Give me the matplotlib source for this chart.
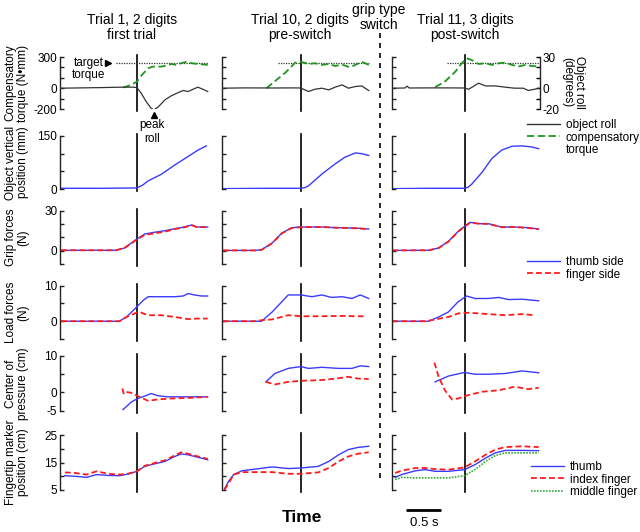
import matplotlib
matplotlib.use("Agg")
import matplotlib.pyplot as plt
from matplotlib.lines import Line2D

plt.rcParams['font.family'] = ['Liberation Sans', 'DejaVu Sans']

# ---- data (time in s, 0 = vertical line) ----
titles = ["Trial 1, 2 digits\nfirst trial", "Trial 10, 2 digits\npre-switch", "Trial 11, 3 digits\npost-switch"]
row_labels = ["Compensatory\ntorque (N\u2022mm)", "Object vertical\nposition (mm)", "Grip forces\n(N)",
              "Load forces\n(N)", "Center of\npressure (cm)", "Fingertip marker\nposition (cm)"]
target_torque = 240
target_span = [(-0.30, 1.01), (-0.33, 0.97), (-0.25, 1.06)]

# row 1: compensatory torque (N*mm) and object roll (deg)
torque_t = [[-0.20, -0.08, 0.00, 0.07, 0.16, 0.23, 0.35, 0.42, 0.49, 0.56, 0.63, 0.70, 0.78, 0.87, 1.01],
            [-0.49, -0.37, -0.22, -0.08, 0.00, 0.11, 0.20, 0.30, 0.40, 0.49, 0.59, 0.70, 0.78, 0.87, 0.97],
            [-0.42, -0.28, -0.13, -0.04, 0.03, 0.10, 0.20, 0.30, 0.39, 0.49, 0.58, 0.68, 0.77, 0.87, 0.96, 1.06]]
torque = [[6, 32, 64, 128, 192, 208, 208, 217, 233, 224, 240, 252, 240, 233, 224],
          [0, 67, 150, 246, 255, 233, 240, 224, 233, 214, 227, 201, 224, 255, 224],
          [10, 64, 160, 240, 288, 272, 233, 240, 224, 240, 246, 224, 208, 224, 214, 208]]
roll_t = [[-1.09, -0.80, -0.50, -0.20, -0.05, 0.00, 0.06, 0.13, 0.20, 0.24, 0.30, 0.40, 0.49, 0.59, 0.66, 0.73, 0.80, 0.87, 0.94, 1.01],
          [-1.12, -0.80, -0.40, -0.10, 0.00, 0.11, 0.20, 0.30, 0.40, 0.49, 0.59, 0.68, 0.78, 0.87, 0.97],
          [-1.03, -0.85, -0.82, -0.79, -0.50, -0.20, 0.00, 0.06, 0.20, 0.30, 0.44, 0.58, 0.72, 0.84, 0.91, 1.00, 1.06]]
roll = [[0, 0.3, 0.6, 1.0, 1.0, 0.5, -4.8, -12.8, -19.2, -20.8, -18.2, -11.2, -7.3, -4.2, -2.2, -3.2, -1.0, 1.0, -1.0, -3.2],
        [0, 0.3, 0.2, 0.3, 0.2, -3.2, -1.0, 0.0, -1.6, 1.0, 3.2, 0.0, 1.6, 2.2, -2.2],
        [0, 0.2, 2.0, 0.2, 0.3, 0.3, 0.2, -1.0, 4.8, 2.2, 2.2, 1.0, 0.0, 0.0, -2.2, -1.0, 0.0]]

# row 2: object vertical position (mm)
pos_t = [[-1.08, -0.50, 0.00, 0.08, 0.16, 0.35, 0.54, 0.73, 0.87, 0.99],
         [-1.11, -0.50, 0.00, 0.06, 0.11, 0.30, 0.49, 0.63, 0.78, 0.87, 0.97],
         [-1.03, -0.50, 0.00, 0.05, 0.10, 0.25, 0.39, 0.53, 0.68, 0.82, 0.96, 1.06]]
pos = [[2, 2, 3, 11, 23, 42, 68, 92, 110, 122],
       [1, 2, 2, 4, 9, 42, 71, 90, 102, 100, 95],
       [1, 2, 2, 5, 13, 47, 86, 110, 121, 122, 119, 114]]

# row 3: grip forces (N)
grip_t = [[-1.08, -0.30, -0.18, -0.08, 0.00, 0.11, 0.25, 0.40, 0.54, 0.68, 0.78, 0.85, 1.01],
          [-1.11, -0.65, -0.56, -0.41, -0.27, -0.13, 0.00, 0.30, 0.49, 0.78, 0.97],
          [-1.03, -0.51, -0.37, -0.23, -0.09, 0.00, 0.08, 0.20, 0.34, 0.53, 0.72, 0.91, 1.06]]
grip_thumb = [[0.3, 0.3, 2.0, 5.75, 8.75, 12.5, 13.8, 15.0, 16.5, 17.75, 19.25, 17.75, 17.75],
              [0.2, 0.2, 0.75, 5.75, 13.25, 17.25, 17.75, 17.75, 17.25, 17.0, 16.25],
              [0.2, 0.3, 2.0, 7.0, 14.5, 18.25, 21.25, 20.25, 20.25, 17.75, 17.75, 17.25, 16.25]]
grip_finger = [[0.3, 0.3, 2.0, 5.5, 8.5, 11.8, 13.0, 14.3, 16.2, 17.6, 19.2, 17.8, 17.6],
               [0.2, 0.2, 0.6, 5.5, 13.0, 17.0, 17.6, 17.8, 17.3, 16.8, 16.2],
               [0.2, 0.3, 2.0, 6.8, 14.3, 18.0, 21.0, 20.3, 20.1, 17.6, 17.8, 17.0, 16.1]]

# row 4: load forces (N)
load_thumb_t = [[-1.08, -0.25, -0.15, 0.00, 0.09, 0.16, 0.35, 0.54, 0.66, 0.73, 0.82, 0.92, 1.01],
                [-1.11, -0.56, -0.41, -0.27, -0.18, 0.00, 0.16, 0.30, 0.44, 0.59, 0.73, 0.85, 0.97],
                [-1.03, -0.51, -0.37, -0.23, -0.09, 0.03, 0.15, 0.34, 0.49, 0.63, 0.82, 1.06]]
load_thumb = [[0, 0, 1.2, 4.1, 5.9, 6.9, 6.9, 6.9, 7.1, 7.8, 7.4, 7.1, 7.1],
              [0, 0, 2.6, 5.5, 7.4, 7.4, 6.9, 7.4, 6.7, 6.9, 6.4, 7.4, 6.4],
              [0, 0, 1.2, 2.6, 5.5, 7.1, 6.4, 6.4, 6.7, 6.1, 6.2, 5.75]]
load_finger_t = [[-1.08, -0.25, -0.13, 0.00, 0.06, 0.16, 0.35, 0.54, 0.73, 0.87, 1.01],
                 [-1.11, -0.65, -0.56, -0.41, -0.18, 0.00, 0.30, 0.59, 0.78, 0.94],
                 [-1.03, -0.55, -0.47, -0.23, -0.09, 0.06, 0.34, 0.58, 0.82, 1.00]]
load_finger = [[0, 0, 1.4, 2.45, 2.4, 1.7, 1.7, 1.2, 0.6, 0.75, 0.75],
               [0, 0, 0.3, 0.5, 1.7, 1.4, 1.4, 1.5, 1.4, 1.4],
               [0, 0, 0.3, 1.2, 2.2, 2.4, 2.0, 1.7, 2.0, 1.7]]

# row 5: center of pressure (cm)
cop_thumb_t = [[-0.20, -0.08, 0.01, 0.11, 0.20, 0.30, 0.44, 0.63, 0.82, 1.01],
               [-0.50, -0.37, -0.18, 0.00, 0.11, 0.30, 0.54, 0.73, 0.85, 0.97],
               [-0.42, -0.23, 0.00, 0.15, 0.34, 0.58, 0.82, 1.06]]
cop_thumb = [[-4.7, -2.6, -1.65, -1.0, -0.3, -0.9, -1.2, -1.2, -1.2, -1.2],
             [2.9, 5.2, 6.6, 7.1, 6.6, 6.9, 6.6, 6.6, 7.3, 7.1],
             [2.9, 4.5, 5.5, 5.0, 5.0, 5.2, 5.9, 5.4]]
cop_finger_t = [[-0.21, -0.19, -0.17, -0.08, 0.01, 0.16, 0.30, 0.49, 0.73, 1.01],
                [-0.50, -0.37, -0.18, 0.00, 0.30, 0.54, 0.68, 0.82, 0.97],
                [-0.43, -0.37, -0.28, -0.18, -0.09, 0.06, 0.25, 0.49, 0.72, 0.91, 1.06]]
cop_finger = [[1.1, -0.3, 0.2, -0.1, -1.0, -2.3, -1.9, -1.65, -1.5, -1.2],
              [2.9, 2.2, 2.9, 3.2, 3.4, 3.9, 4.3, 3.8, 3.7],
              [8.2, 4.3, 0.6, -1.9, -1.65, -0.7, 0.2, 0.6, 1.6, 0.9, 1.3]]

# row 6: fingertip marker position (cm)
tip_t = [[-1.03, -0.89, -0.72, -0.58, -0.41, -0.25, -0.13, 0.00, 0.11, 0.25, 0.40, 0.54, 0.63, 0.73, 0.87, 1.01],
         [-1.09, -1.03, -0.96, -0.84, -0.65, -0.41, -0.18, 0.00, 0.25, 0.40, 0.54, 0.68, 0.82, 0.97],
         [-0.99, -0.90, -0.70, -0.56, -0.42, -0.23, 0.00, 0.15, 0.30, 0.44, 0.58, 0.82, 1.06]]
tip_thumb = [[10.2, 10.0, 9.6, 10.6, 10.3, 10.2, 10.8, 11.8, 13.6, 14.5, 15.4, 17.2, 18.1, 17.8, 16.9, 16.0],
             [5.4, 8.2, 10.6, 12.0, 12.6, 13.4, 12.8, 13.0, 13.6, 15.4, 17.8, 19.7, 20.5, 20.9],
             [9.6, 10.6, 12.0, 12.4, 11.8, 11.8, 12.4, 14.2, 16.6, 18.5, 19.4, 19.4, 19.3]]
tip_index = [[11.4, 11.2, 10.6, 11.8, 10.9, 10.6, 10.9, 11.8, 13.8, 14.8, 15.8, 17.6, 18.7, 18.2, 17.2, 16.3],
             [5.1, 7.5, 10.6, 11.5, 11.5, 11.5, 10.9, 10.9, 11.4, 13.0, 15.4, 17.2, 18.2, 18.7],
             [11.2, 12.0, 13.0, 13.0, 12.6, 12.4, 13.2, 15.4, 17.8, 19.7, 20.6, 20.9, 20.6]]
tip_middle = [8.8, 9.6, 9.4, 9.4, 9.4, 9.4, 10.2, 12.4, 15.4, 17.5, 18.5, 18.5, 18.5]

# ---- layout (pixels) ----
W, H = 640, 532
PX_PER_S = 70.0
col_left = [60, 221.7, 391.7]
col_t0 = [-1.10, -1.13, -1.04]
t_end = 1.08
rows = [(57, 109, (-200, 300), [-200, -100, 0, 100, 200, 300], ['-200', '', '0', '', '', '300']),
        (136, 189, (0, 150), [0, 50, 100, 150], ['0', '', '', '150']),
        (210.7, 264, (-10, 30), [-10, 0, 10, 20, 30], ['', '0', '', '', '30']),
        (285.7, 339, (-5, 10), [-5, 0, 5, 10], ['', '0', '', '10']),
        (356, 410.7, (-5, 10), [-5, 0, 5, 10], ['-5', '0', '', '10']),
        (435, 490, (5, 25), [5, 10, 15, 20, 25], ['5', '', '15', '', '25'])]

BLUE = '#3a3aff'
RED = '#ff1a1a'
GREEN = '#1e961e'
LGREEN = '#33aa33'
DASH = (0, (3.2, 1.8))

fig = plt.figure(figsize=(W / 100, H / 100), dpi=100)


def add_px_axes(left, top, right, bottom):
    return fig.add_axes([left / W, 1 - bottom / H, (right - left) / W, (bottom - top) / H])


axes = []
for r, (top, bot, ylim, ticks, labels) in enumerate(rows):
    row_axes = []
    for c in range(3):
        left = col_left[c]
        right = left + (t_end - col_t0[c]) * PX_PER_S
        ax = add_px_axes(left, top, right, bot)
        ax.set_xlim(col_t0[c], t_end)
        ax.set_ylim(*ylim)
        for s in ['top', 'right', 'bottom']:
            ax.spines[s].set_visible(False)
        ax.spines['left'].set_linewidth(1.0)
        ax.spines['left'].set_color('#222222')
        ax.set_xticks([])
        ax.set_yticks(ticks)
        ax.tick_params(axis='y', direction='in', length=3, width=1.0, color='#222222',
                       labelsize=8.5, pad=2)
        if c == 0:
            ax.set_yticklabels(labels)
        else:
            ax.set_yticklabels([''] * len(ticks))
        ax.axvline(0, ymin=-0.04, ymax=1.04, color='k', lw=1.2, clip_on=False)
        ax.patch.set_visible(False)
        row_axes.append(ax)
    axes.append(row_axes)

# row labels
for r, (top, bot, *_ ) in enumerate(rows):
    fig.text(17 / W, 1 - (top + bot) / 2 / H, row_labels[r], rotation=90, ha='center', va='center',
             fontsize=8.5, multialignment='center', linespacing=1.05)

# column titles
title_x = [132, 300, 465]
for c in range(3):
    fig.text(title_x[c] / W, 1 - 27.5 / H, titles[c], ha='center', va='center', fontsize=10,
             linespacing=1.1)
fig.text(379 / W, 1 - 17.5 / H, "grip type\nswitch", ha='center', va='center', fontsize=10,
         linespacing=1.1)

# row 1: torque and roll
for c in range(3):
    ax = axes[0][c]
    ax.plot(target_span[c], [target_torque, target_torque], color='#333333', lw=0.9, ls=(0, (1, 1)))
    ax.plot(torque_t[c], torque[c], color=GREEN, lw=1.3, ls=(0, (4, 2)))
    axr = ax.twinx()
    axr.set_ylim(-20, 30)
    axr.patch.set_visible(False)
    for s in ['top', 'left', 'bottom']:
        axr.spines[s].set_visible(False)
    axr.plot(roll_t[c], roll[c], color='#333333', lw=0.9)
    if c == 2:
        axr.spines['right'].set_linewidth(1.0)
        axr.spines['right'].set_color('#222222')
        axr.set_yticks([-20, -10, 0, 10, 20, 30])
        axr.set_yticklabels(['-20', '', '0', '', '', '30'])
        axr.tick_params(axis='y', direction='in', length=3, width=1.0, labelsize=8.5, pad=2)
    else:
        axr.spines['right'].set_visible(False)
        axr.set_yticks([])
ax = axes[0][0]
ax.plot([-0.42], [target_torque], marker='>', color='k', ms=5, clip_on=False)
ax.text(-0.69, target_torque - 55, "target\ntorque", ha='center', va='center', fontsize=8.5,
        linespacing=1.05)
ax.plot([0.24], [-262], marker='^', color='k', ms=5, clip_on=False)
ax.text(0.22, -300, "peak\nroll", ha='center', va='top', fontsize=8.5, linespacing=1.15)
fig.text(573 / W, 1 - 82 / H, "Object roll\n(degrees)", rotation=270, ha='center', va='center',
         fontsize=8.5, multialignment='center', linespacing=1.05)

for c in range(3):
    axes[1][c].plot(pos_t[c], pos[c], color=BLUE, lw=1.0)
    axes[2][c].plot(grip_t[c], grip_thumb[c], color=BLUE, lw=1.0)
    axes[2][c].plot(grip_t[c], grip_finger[c], color=RED, lw=1.3, ls=DASH)
    axes[3][c].plot(load_thumb_t[c], load_thumb[c], color=BLUE, lw=1.0)
    axes[3][c].plot(load_finger_t[c], load_finger[c], color=RED, lw=1.3, ls=DASH)
    axes[4][c].plot(cop_thumb_t[c], cop_thumb[c], color=BLUE, lw=1.0)
    axes[4][c].plot(cop_finger_t[c], cop_finger[c], color=RED, lw=1.3, ls=DASH)
    axes[5][c].plot(tip_t[c], tip_thumb[c], color=BLUE, lw=1.0)
    axes[5][c].plot(tip_t[c], tip_index[c], color=RED, lw=1.3, ls=DASH)
axes[5][2].plot(tip_t[2], tip_middle, color=LGREEN, lw=1.2, ls=(0, (1, 0.8)))

# legends
def legend_at(handles, labels, x, y):
    fig.legend(handles, labels, loc='upper left', bbox_to_anchor=(x / W, 1 - y / H),
               frameon=False, fontsize=8.5, handlelength=2.8, handletextpad=0.5,
               labelspacing=0.05, borderpad=0, borderaxespad=0)

legend_at([Line2D([], [], color='#333333', lw=1.0), Line2D([], [], color=GREEN, lw=1.3, ls=(0, (4, 2))),
           Line2D([], [], color='none')],
          ["object roll", "compensatory", "torque"], 527, 119)
legend_at([Line2D([], [], color=BLUE, lw=1.0), Line2D([], [], color=RED, lw=1.3, ls=DASH)],
          ["thumb side", "finger side"], 527, 256)
legend_at([Line2D([], [], color=BLUE, lw=1.0), Line2D([], [], color=RED, lw=1.3, ls=DASH),
           Line2D([], [], color=LGREEN, lw=1.2, ls=(0, (1, 0.8)))],
          ["thumb", "index finger", "middle finger"], 531, 461)

# grip type switch separator
fig.add_artist(Line2D([380 / W, 380 / W], [1 - 33 / H, 1 - 478 / H], transform=fig.transFigure,
                      color='k', lw=1.2, ls=(0, (3, 3))))

# time scale bar (0.5 s) and axis caption
ax = axes[5][2]
ax.plot([-0.83, -0.33], [-2.3, -2.3], color='k', lw=2, clip_on=False, solid_capstyle='butt')
ax.text(-0.58, -5.0, "0.5 s", ha='center', va='top', fontsize=9.5)
fig.text(302 / W, 1 - 518 / H, "Time", ha='center', va='center', fontsize=12.5, fontweight='bold')

fig.savefig("out.png", dpi=100)
